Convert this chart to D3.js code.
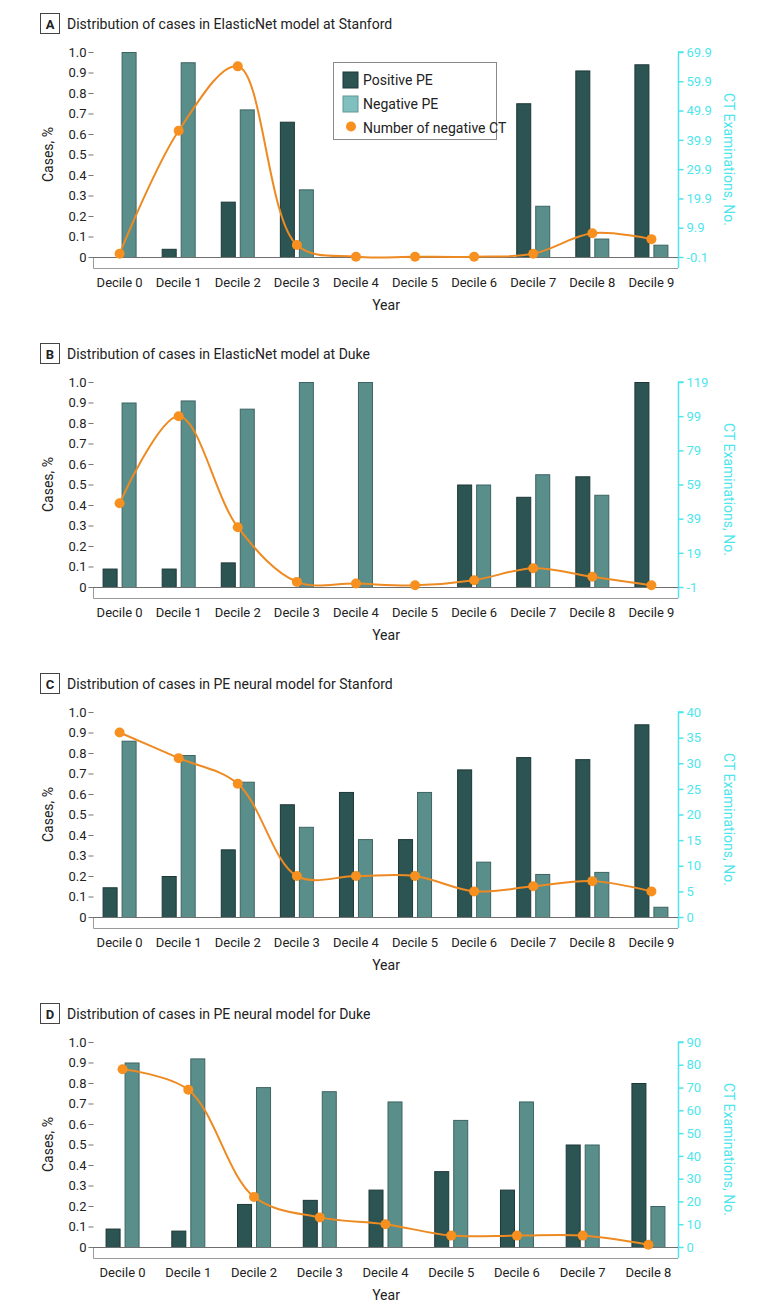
<!DOCTYPE html>
<html>
<head>
<meta charset="utf-8">
<script src="https://cdn.jsdelivr.net/npm/d3@7"></script>
<style>
  body { margin: 0; background: #fff; }
  text { font-family: Roboto, "Liberation Sans", sans-serif; fill: #222; }
</style>
</head>
<body>
<script>
// Step 1: data
var decilesTen = ["Decile 0", "Decile 1", "Decile 2", "Decile 3", "Decile 4",
                  "Decile 5", "Decile 6", "Decile 7", "Decile 8", "Decile 9"];
var decilesNine = ["Decile 0", "Decile 1", "Decile 2", "Decile 3", "Decile 4",
                   "Decile 5", "Decile 6", "Decile 7", "Decile 8"];
var caseTicks = [0, 0.1, 0.2, 0.3, 0.4, 0.5, 0.6, 0.7, 0.8, 0.9, 1.0];

// A: ElasticNet, Stanford
var netStanfordPositive = [0, 0.04, 0.27, 0.66, 0, 0, 0, 0.75, 0.91, 0.94];
var netStanfordNegative = [1.0, 0.95, 0.72, 0.33, 0, 0, 0, 0.25, 0.09, 0.06];
var netStanfordCT = [1, 43, 65, 4, 0, 0, 0, 1, 8, 6];
var netStanfordTicks = [-0.1, 9.9, 19.9, 29.9, 39.9, 49.9, 59.9, 69.9];

// B: ElasticNet, Duke
var netDukePositive = [0.09, 0.09, 0.12, 0, 0, 0, 0.5, 0.44, 0.54, 1.0];
var netDukeNegative = [0.9, 0.91, 0.87, 1.0, 1.0, 0, 0.5, 0.55, 0.45, 0];
var netDukeCT = [48, 99, 34, 2, 1, 0, 3, 10, 5, 0];
var netDukeTicks = [-1, 19, 39, 59, 79, 99, 119];

// C: PE neural, Stanford
var neuralStanfordPositive = [0.145, 0.2, 0.33, 0.55, 0.61, 0.38, 0.72, 0.78, 0.77, 0.94];
var neuralStanfordNegative = [0.86, 0.79, 0.66, 0.44, 0.38, 0.61, 0.27, 0.21, 0.22, 0.05];
var neuralStanfordCT = [36, 31, 26, 8, 8, 8, 5, 6, 7, 5];
var neuralStanfordTicks = [0, 5, 10, 15, 20, 25, 30, 35, 40];

// D: PE neural, Duke
var neuralDukePositive = [0.09, 0.08, 0.21, 0.23, 0.28, 0.37, 0.28, 0.5, 0.8];
var neuralDukeNegative = [0.9, 0.92, 0.78, 0.76, 0.71, 0.62, 0.71, 0.5, 0.2];
var neuralDukeCT = [78, 69, 22, 13, 10, 5, 5, 5, 1];
var neuralDukeTicks = [0, 10, 20, 30, 40, 50, 60, 70, 80, 90];

var legendLabels = ["Positive PE", "Negative PE", "Number of negative CT"];

var darkFill = "#2c5453", darkStroke = "#1c3737";
var tealFill = "#5a8e8b", tealStroke = "#3d6462";
var orange = "#f7901e", lineOrange = "#ee8a22";
var cyan = "#4fe5ec";

var svg = d3.select("body")
    .append("svg")
    .attr("width", 780)
    .attr("height", 1315);

// Step 2: one panel
function drawPanel(top, letter, title, cats, positive, negative, ct, ctTicks, withLegend) {
    var g = svg.append("g").attr("transform", "translate(0," + top + ")");
    var plotTop = 52, base = 257, left = 93, right = 678;

    var xScale = d3.scalePoint().domain(cats).range([left, right]).padding(0.45);
    var subScale = d3.scaleBand().domain(["pos", "neg"]).range([-17, 17]).paddingInner(0.21);
    var yScale = d3.scaleLinear().domain([0, 1]).range([base, plotTop]);
    var ctScale = d3.scaleLinear().domain([ctTicks[0], ctTicks[ctTicks.length - 1]]).range([base, plotTop]);

    // panel heading
    g.append("rect").attr("x", 40.5).attr("y", 13.5).attr("width", 19).attr("height", 20)
        .attr("fill", "none").attr("stroke", "#444");
    g.append("text").text(letter).attr("x", 50).attr("y", 28.5)
        .attr("text-anchor", "middle").style("font-weight", "bold").style("font-size", "13px");
    g.append("text").text(title).attr("x", 67).attr("y", 28.5).style("font-size", "14px");

    // frame below the baseline
    g.append("path")
        .attr("d", "M" + (left + 0.5) + "," + base + "V" + (base + 11.5) + "H" + right)
        .attr("fill", "none").attr("stroke", "#9a9a9a");

    // left axis
    var yAxis = d3.axisLeft(yScale).tickValues(caseTicks).tickSize(5).tickPadding(2)
        .tickFormat(function(d) { return d === 0 ? "0" : d3.format(".1f")(d); });
    var ya = g.append("g").attr("transform", "translate(" + (left + 0.5) + ",0)").call(yAxis);
    ya.select(".domain").remove();
    ya.selectAll("line").attr("stroke", "#777");
    ya.selectAll("text").style("font-size", "13px");

    // right axis
    var rAxis = d3.axisRight(ctScale).tickValues(ctTicks).tickSize(5).tickPadding(3)
        .tickFormat(function(d) { return String(d); });
    var ra = g.append("g").attr("transform", "translate(" + (right + 0.5) + ",0)").call(rAxis);
    ra.select(".domain").attr("d", "M5," + plotTop + "H0V" + (base + 11));
    ra.selectAll("path, line").attr("stroke", cyan).attr("stroke-width", 1.5);
    ra.selectAll("text").style("font-size", "13px").style("fill", cyan);

    // bars
    var rows = cats.map(function(c, i) {
        return { cat: c, pos: positive[i], neg: negative[i], ct: ct[i] };
    });
    var bars = [];
    rows.forEach(function(r) {
        bars.push({ cat: r.cat, key: "pos", value: r.pos });
        bars.push({ cat: r.cat, key: "neg", value: r.neg });
    });
    g.selectAll("rect.bar")
        .data(bars.filter(function(d) { return d.value > 0; }))
        .enter()
        .append("rect")
        .attr("class", "bar")
        .attr("x", function(d) { return xScale(d.cat) + subScale(d.key) + 0.5; })
        .attr("y", function(d) { return yScale(d.value) + 0.5; })
        .attr("width", subScale.bandwidth() - 1)
        .attr("height", function(d) { return base - yScale(d.value); })
        .attr("fill", function(d) { return d.key === "pos" ? darkFill : tealFill; })
        .attr("stroke", function(d) { return d.key === "pos" ? darkStroke : tealStroke; });

    // zero line
    g.append("line").attr("x1", left).attr("x2", right).attr("y1", base + 0.5).attr("y2", base + 0.5)
        .attr("stroke", "#6f6f6f");

    // category labels
    g.selectAll("text.cat")
        .data(cats)
        .enter()
        .append("text")
        .attr("class", "cat")
        .text(function(d) { return d; })
        .attr("x", function(d) { return xScale(d); })
        .attr("y", 287)
        .attr("text-anchor", "middle")
        .style("font-size", "13px");

    g.append("text").text("Year").attr("x", 386).attr("y", 310)
        .attr("text-anchor", "middle").style("font-size", "14px");
    g.append("text").text("Cases, %")
        .attr("transform", "translate(53," + ((plotTop + base) / 2) + ") rotate(-90)")
        .attr("text-anchor", "middle").style("font-size", "14px");
    g.append("text").text("CT Examinations, No.")
        .attr("transform", "translate(724," + ((plotTop + base) / 2 + 5) + ") rotate(90)")
        .attr("text-anchor", "middle").style("font-size", "14px").style("fill", cyan);

    // spline of negative CT counts
    var line = d3.line()
        .x(function(d) { return xScale(d.cat); })
        .y(function(d) { return ctScale(d.ct); })
        .curve(d3.curveCatmullRom.alpha(0.5));
    g.append("path")
        .datum(rows)
        .attr("d", line)
        .attr("fill", "none")
        .attr("stroke", lineOrange)
        .attr("stroke-width", 2);
    g.selectAll("circle.pt")
        .data(rows)
        .enter()
        .append("circle")
        .attr("class", "pt")
        .attr("cx", function(d) { return xScale(d.cat); })
        .attr("cy", function(d) { return ctScale(d.ct); })
        .attr("r", 5)
        .attr("fill", orange);

    if (withLegend) {
        var lg = g.append("g").attr("transform", "translate(333,62)");
        lg.append("rect").attr("x", 0.5).attr("y", 0.5).attr("width", 163).attr("height", 77)
            .attr("fill", "#fff").attr("stroke", "#8a8a8a");
        lg.append("rect").attr("x", 10).attr("y", 10).attr("width", 15).attr("height", 16)
            .attr("fill", darkFill).attr("stroke", darkStroke);
        lg.append("rect").attr("x", 10).attr("y", 34).attr("width", 15).attr("height", 16)
            .attr("fill", "#7fbfbe").attr("stroke", "#5f9796");
        lg.append("circle").attr("cx", 18).attr("cy", 64.5).attr("r", 5).attr("fill", orange);
        lg.selectAll("text.leg")
            .data(legendLabels)
            .enter()
            .append("text")
            .attr("class", "leg")
            .text(function(d) { return d; })
            .attr("x", 30)
            .attr("y", function(d, i) { return 23 + i * 24; })
            .style("font-size", "14px");
    }
}

// Step 3: the four panels
drawPanel(0, "A", "Distribution of cases in ElasticNet model at Stanford",
    decilesTen, netStanfordPositive, netStanfordNegative, netStanfordCT, netStanfordTicks, true);
drawPanel(330, "B", "Distribution of cases in ElasticNet model at Duke",
    decilesTen, netDukePositive, netDukeNegative, netDukeCT, netDukeTicks, false);
drawPanel(660, "C", "Distribution of cases in PE neural model for Stanford",
    decilesTen, neuralStanfordPositive, neuralStanfordNegative, neuralStanfordCT, neuralStanfordTicks, false);
drawPanel(990, "D", "Distribution of cases in PE neural model for Duke",
    decilesNine, neuralDukePositive, neuralDukeNegative, neuralDukeCT, neuralDukeTicks, false);
</script>
</body>
</html>
